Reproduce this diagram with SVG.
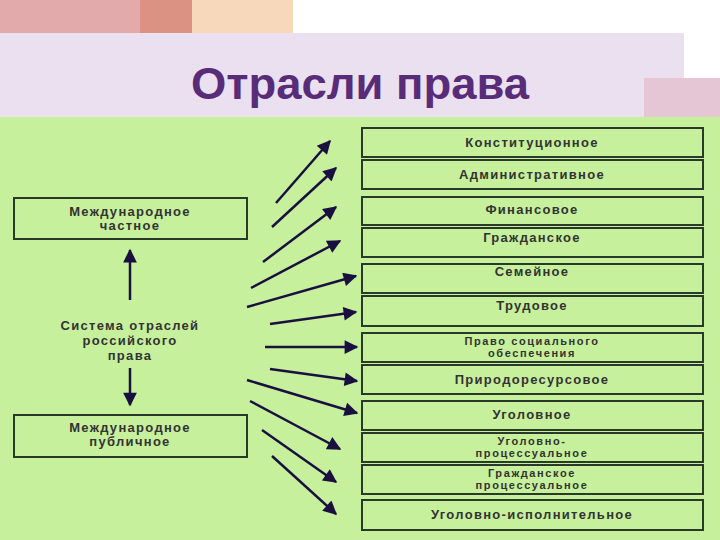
<svg xmlns="http://www.w3.org/2000/svg" width="720" height="540" viewBox="0 0 720 540">
<style>
.b{fill:none;stroke:#2a3a2a;stroke-width:2}
.t{font-family:"Liberation Sans",Arial,sans-serif;font-weight:bold;font-size:13px;fill:#333;text-anchor:middle;letter-spacing:1.3px}
.s{font-size:11px;letter-spacing:1.6px}
.c line{stroke:#1a1040;stroke-width:2.5;marker-end:url(#ah)}
</style>
<defs><marker id="ah" viewBox="0 0 10 10" refX="9" refY="5" markerWidth="9" markerHeight="5.5" orient="auto" markerUnits="strokeWidth"><path d="M0,0L10,5L0,10z" fill="#1a1040"/></marker></defs>
<rect width="720" height="540" fill="#fff"/>
<rect x="0" y="0" width="140" height="42" fill="#e2aaaa"/>
<rect x="140" y="0" width="52" height="42" fill="#dc9282"/>
<rect x="192" y="0" width="101" height="42" fill="#f8d8ba"/>
<rect x="0" y="33" width="684" height="84" fill="#ebe0f0"/>
<rect x="644" y="78" width="76" height="39" fill="#e4c6d4"/>
<rect x="0" y="117" width="720" height="423" fill="#c6f09c"/>
<text x="360" y="99" font-family="Liberation Sans,Arial,sans-serif" font-weight="bold" font-size="44" fill="#582c78" text-anchor="middle" textLength="338" lengthAdjust="spacingAndGlyphs">Отрасли права</text>
<g id="n_mch"><rect class="b" x="14" y="198" width="233" height="41"/><text class="t" x="130" y="216">Международное</text><text class="t" x="130" y="230">частное</text></g>
<g id="n_sys"><text class="t" x="130" y="330">Система  отраслей</text><text class="t" x="130" y="345">российского</text><text class="t" x="130" y="360">права</text></g>
<g id="n_mp"><rect class="b" x="14" y="415" width="233" height="42"/><text class="t" x="130" y="432">Международное</text><text class="t" x="130" y="446">публичное</text></g>
<g id="n1"><rect class="b" x="362" y="128" width="341" height="29"/><text class="t" x="532" y="147">Конституционное</text></g>
<g id="n2"><rect class="b" x="362" y="160" width="341" height="29"/><text class="t" x="532" y="179">Административное</text></g>
<g id="n3"><rect class="b" x="362" y="197" width="341" height="28"/><text class="t" x="532" y="214">Финансовое</text></g>
<g id="n4"><rect class="b" x="362" y="228" width="341" height="29"/><text class="t" x="532" y="242">Гражданское</text></g>
<g id="n5"><rect class="b" x="362" y="264" width="341" height="29"/><text class="t" x="532" y="276">Семейное</text></g>
<g id="n6"><rect class="b" x="362" y="296" width="341" height="30"/><text class="t" x="532" y="310">Трудовое</text></g>
<g id="n7"><rect class="b" x="362" y="333" width="341" height="29"/><text class="t s" x="532" y="345">Право  социального</text><text class="t s" x="532" y="357">обеспечения</text></g>
<g id="n8"><rect class="b" x="362" y="365" width="341" height="29"/><text class="t" x="532" y="384">Природоресурсовое</text></g>
<g id="n9"><rect class="b" x="362" y="401" width="341" height="29"/><text class="t" x="532" y="419">Уголовное</text></g>
<g id="n10"><rect class="b" x="362" y="433" width="341" height="29"/><text class="t s" x="532" y="445">Уголовно-</text><text class="t s" x="532" y="457">процессуальное</text></g>
<g id="n11"><rect class="b" x="362" y="465" width="341" height="29"/><text class="t s" x="532" y="477">Гражданское</text><text class="t s" x="532" y="489">процессуальное</text></g>
<g id="n12"><rect class="b" x="362" y="500" width="341" height="30"/><text class="t" x="532" y="519">Уголовно-исполнительное</text></g>
<g class="c" id="connectors">
<line x1="130" y1="300" x2="130" y2="250"/>
<line x1="130" y1="368" x2="130" y2="405"/>
<line x1="276" y1="203" x2="330" y2="141"/>
<line x1="272" y1="227" x2="336" y2="168"/>
<line x1="263" y1="262" x2="336" y2="207"/>
<line x1="251" y1="288" x2="340" y2="241"/>
<line x1="247" y1="307" x2="356" y2="276"/>
<line x1="270" y1="324" x2="356" y2="312"/>
<line x1="265" y1="347" x2="357" y2="347"/>
<line x1="270" y1="369" x2="357" y2="381"/>
<line x1="247" y1="380" x2="357" y2="413"/>
<line x1="250" y1="401" x2="340" y2="449"/>
<line x1="262" y1="430" x2="336" y2="482"/>
<line x1="272" y1="456" x2="336" y2="514"/>
</g>
</svg>
